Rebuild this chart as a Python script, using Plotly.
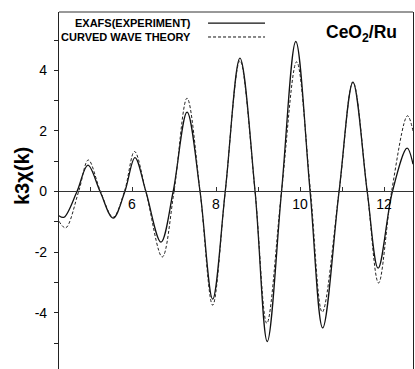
import plotly.graph_objects as go

# ---- data ----
k_exp = [4.26, 4.38, 4.69, 4.95, 5.24, 5.55, 5.83, 6.07, 6.33, 6.69, 6.98, 7.31, 7.62, 7.92,
         8.22, 8.57, 8.93, 9.22, 9.56, 9.90, 10.24, 10.54, 10.93, 11.26, 11.60, 11.86,
         12.20, 12.55, 12.69]
chi_exp = [-0.80, -0.85, 0.0, 0.87, 0.0, -0.88, 0.0, 1.12, 0.0, -1.67, 0.0, 2.62, 0.0, -3.55,
           0.0, 4.40, 0.0, -4.95, 0.0, 4.95, 0.0, -4.50, 0.0, 3.60, 0.0, -2.53,
           0.0, 1.43, 0.90]

k_theory = [4.26, 4.42, 4.73, 4.96, 5.25, 5.55, 5.82, 6.06, 6.33, 6.72, 7.00, 7.31, 7.62, 7.92,
            8.22, 8.57, 8.93, 9.21, 9.56, 9.92, 10.25, 10.53, 10.93, 11.26, 11.60, 11.87,
            12.18, 12.56, 12.69]
chi_theory = [-0.98, -1.20, 0.0, 1.04, 0.0, -0.85, 0.0, 1.32, 0.0, -2.16, 0.0, 3.08, 0.0, -3.75,
              0.0, 4.32, 0.0, -4.35, 0.0, 4.28, 0.0, -3.98, 0.0, 3.62, 0.0, -3.02,
              0.0, 2.50, 2.00]

x_tickvals = [6, 8, 10, 12]
x_ticktext = ["6", "8", "10", "12"]
y_tickvals = [-4, -2, 0, 2, 4]
y_ticktext = ["-4", "-2", "0", "2", "4"]

series_names = ["EXAFS(EXPERIMENT)", "CURVED WAVE THEORY"]
panel_label = "CeO<sub>2</sub>/Ru"
y_title = "k3χ(k)"

x_range = [4.262, 12.69]
y_range = [-5.858, 5.924]

# ---- figure ----
fig = go.Figure()
fig.add_trace(go.Scatter(x=k_exp, y=chi_exp, mode="lines", name=series_names[0],
                         line=dict(color="#111111", width=1.3, shape="spline", smoothing=1.0),
                         showlegend=False))
fig.add_trace(go.Scatter(x=k_theory, y=chi_theory, mode="lines", name=series_names[1],
                         line=dict(color="#222222", width=1, dash="3px,2px", shape="spline",
                                   smoothing=1.0),
                         showlegend=False))

zero_pos = (0 - y_range[0]) / (y_range[1] - y_range[0])
font_main = "Liberation Sans, Arial, sans-serif"

fig.update_layout(
    width=415, height=369,
    margin=dict(l=59, r=2, t=12, b=0),
    paper_bgcolor="white", plot_bgcolor="white",
    font=dict(family=font_main, color="black", size=13),
    xaxis=dict(range=x_range, anchor="free", position=zero_pos,
               showgrid=False, zeroline=False,
               showline=True, linecolor="#333333", linewidth=1,
               tickvals=x_tickvals, ticktext=x_ticktext,
               ticks="inside", ticklen=4, tickcolor="#333333",
               minor=dict(tickvals=[5, 7, 9, 11], ticks="inside", ticklen=4, tickcolor="#333333"),
               tickfont=dict(size=14, family=font_main)),
    yaxis=dict(range=y_range, showgrid=False, zeroline=False,
               showline=True, mirror=True, linecolor="#222222", linewidth=1.2,
               tickvals=y_tickvals, ticktext=y_ticktext,
               ticks="outside", ticklen=4, tickcolor="#222222",
               minor=dict(tickvals=[-5, -3, -1, 1, 3, 5], ticks="outside", ticklen=4,
                          tickcolor="#222222"),
               ticklabelstandoff=4,
               tickfont=dict(size=14, family=font_main)),
)

# top frame line
fig.add_shape(type="line", xref="paper", yref="paper", x0=0, x1=1, y0=1, y1=1,
              line=dict(color="#333333", width=1))

# legend (text left of line sample)
legend_y = [0.969, 0.930]
for name, ly, dash, w in zip(series_names, legend_y, ["solid", "3px,2px"], [1.3, 1]):
    fig.add_annotation(text="<b>" + name + "</b>", xref="paper", yref="paper",
                       x=0.3785, y=ly, xanchor="right", yanchor="middle", showarrow=False,
                       font=dict(size=11, family=font_main, color="black"))
    fig.add_shape(type="line", xref="paper", yref="paper", x0=0.421, x1=0.582, y0=ly, y1=ly,
                  line=dict(color="#111111", width=w, dash=dash))

fig.add_annotation(text="<b>" + panel_label + "</b>", xref="paper", yref="paper",
                   x=0.854, y=0.941, xanchor="center", yanchor="middle", showarrow=False,
                   font=dict(size=17.5, family=font_main, color="black"))

fig.add_annotation(text="<b>" + y_title + "</b>", xref="paper", yref="paper",
                   x=-0.1045, y=0.5406, xanchor="center", yanchor="middle", showarrow=False,
                   textangle=-90, font=dict(size=20, family=font_main, color="black"))

fig.write_html(
    "out.html",
    config={"displayModeBar": False},
    post_script=("document.body.style.margin='0';"
                 "document.documentElement.style.overflow='hidden';"
                 "document.body.style.overflow='hidden';"),
)
